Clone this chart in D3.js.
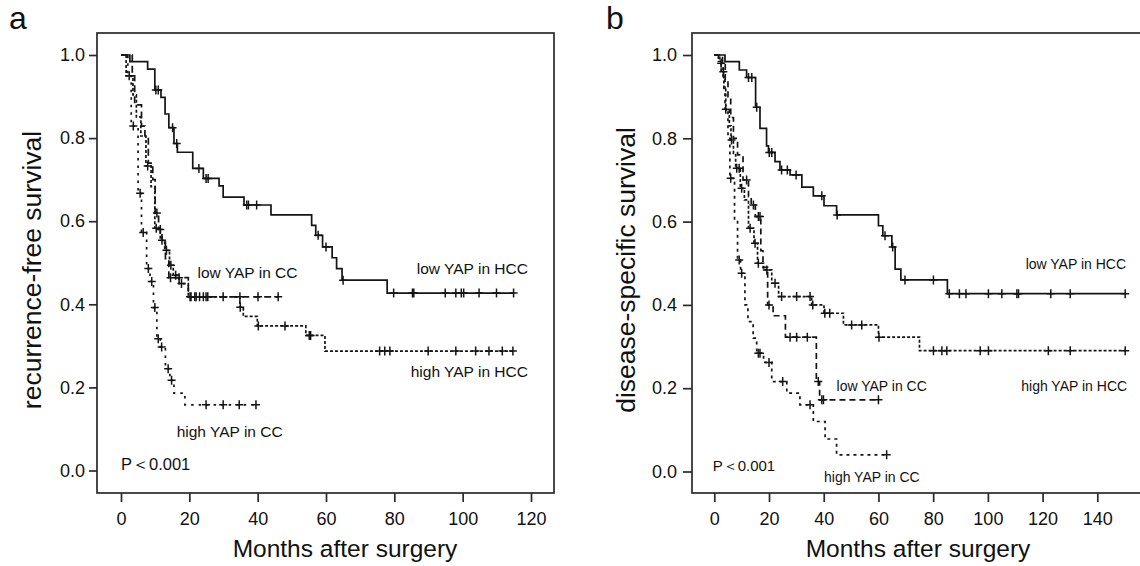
<!DOCTYPE html>
<html>
<head>
<meta charset="utf-8">
<script src="https://cdn.jsdelivr.net/npm/d3@7"></script>
<style>
  body { margin: 0; background: #fff; }
  svg { display: block; }
  text { font-family: "Liberation Sans", Arial, sans-serif; fill: #111; }
</style>
</head>
<body>
<svg id="chart" width="1140" height="566"></svg>
<script>
// ---- data: [month, survival] step points + censor months ----
const seriesNames = ["low YAP in HCC", "high YAP in HCC", "low YAP in CC", "high YAP in CC"];
const yTicks = [0, 0.2, 0.4, 0.6, 0.8, 1.0];
const xTicksA = [0, 20, 40, 60, 80, 100, 120];
const xTicksB = [0, 20, 40, 60, 80, 100, 120, 140];

// panel a: recurrence-free survival
const aLowHccSteps = [[0,1],[2.6,0.984],[7.8,0.966],[9.9,0.916],[11.7,0.898],[12.9,0.858],[14.0,0.825],[15.5,0.787],[16.5,0.766],[21.0,0.727],[24.1,0.703],[28.7,0.685],[29.9,0.658],[36.0,0.639],[43.9,0.615],[55.8,0.590],[57.0,0.566],[59.0,0.538],[61.8,0.512],[63.1,0.486],[64.7,0.458],[77.9,0.427]];
const aLowHccCensor = [10.2,10.9,15.1,16.3,22.8,24.9,25.5,36.8,37.3,39.7,57.7,60.0,65.0,79.8,85.3,85.7,94.9,98.0,99.6,100.3,104.8,109.9,114.9];
const aHighHccSteps = [[0,1],[1.5,0.95],[3.5,0.904],[4.5,0.851],[5.8,0.805],[7.3,0.733],[8.8,0.683],[9.9,0.583],[11.5,0.554],[12.8,0.53],[14.2,0.494],[15.3,0.47],[17.0,0.45],[19.7,0.418],[34.8,0.393],[35.8,0.371],[39.9,0.348],[54.1,0.325],[59.7,0.2875]];
const aHighHccCensor = [2.4,7.8,10.3,12.0,13.3,14.6,16.0,17.7,20.5,22.0,23.0,34.9,40.2,48.0,55.1,55.5,75.7,77.2,78.7,89.9,98.0,103.8,107.7,111.6,114.7];
const aLowCcSteps = [[0,1],[3.3,0.95],[4.0,0.88],[6.0,0.829],[7.0,0.805],[8.0,0.74],[9.3,0.70],[10.0,0.62],[11.0,0.58],[12.0,0.55],[13.0,0.51],[14.0,0.464],[19.7,0.418]];
const aLowCcCensor = [10.5,11.5,14.5,17.0,20.2,21.6,24.1,24.9,25.4,29.9,34.8,40.1,46.0];
const aHighCcSteps = [[0,1],[2.0,0.95],[3.0,0.829],[5.0,0.667],[6.0,0.573],[7.5,0.486],[8.5,0.455],[9.5,0.392],[10.5,0.317],[11.5,0.297],[13.0,0.245],[14.3,0.217],[15.5,0.186],[18.7,0.158]];
const aHighCcCensor = [3.6,5.6,6.5,8.0,9.0,9.9,10.9,11.9,13.8,14.8,24.9,29.9,34.6,39.5];

// panel b: disease-specific survival
const bLowHccSteps = [[0,1],[3.9,0.984],[9.15,0.964],[11.8,0.946],[15.1,0.8745],[16.7,0.824],[19.1,0.782],[19.8,0.766],[22.2,0.744],[24.0,0.724],[27.7,0.712],[32.0,0.683],[36.2,0.662],[40.1,0.638],[44.7,0.616],[60.0,0.590],[61.6,0.566],[64.9,0.539],[66.1,0.486],[68.2,0.46],[85.2,0.427]];
const bLowHccCensor = [12.5,13.7,15.5,20.1,21.0,24.6,26.7,29.9,39.3,44.9,62.4,65.2,69.7,80.1,85.9,89.6,92.0,100.2,105.1,110.6,111.2,123.0,130.1,150.2];
const bHighHccSteps = [[0,1],[1.5,0.985],[2.5,0.96],[3.5,0.92],[4.2,0.868],[5.5,0.83],[6.1,0.796],[7.0,0.764],[7.8,0.728],[9.5,0.68],[11.0,0.652],[12.5,0.584],[14.5,0.548],[15.8,0.50],[18.0,0.484],[21.0,0.452],[23.5,0.42],[35.6,0.40],[40.1,0.38],[47.2,0.352],[60.0,0.3225],[75.0,0.290]];
const bHighHccCensor = [3.3,6.3,8.2,9.1,10.0,13.1,14.9,16.1,19.2,22.2,24.6,30.1,35.0,36.0,40.4,42.2,50.2,53.9,60.2,80.1,83.2,85.0,97.2,100.2,122.1,130.1,150.2];
const bLowCcSteps = [[0,1],[3.0,0.98],[4.0,0.94],[5.0,0.90],[6.0,0.85],[7.0,0.80],[8.5,0.76],[10.5,0.70],[12.5,0.66],[13.5,0.64],[15.0,0.612],[17.0,0.53],[17.8,0.49],[19.5,0.40],[21.5,0.374],[26.0,0.3225],[37.3,0.216],[38.5,0.172]];
const bLowCcCensor = [11.8,14.3,16.1,16.7,20.0,27.7,30.1,34.0,38.0,39.3,39.9,60.0];
const bHighCcSteps = [[0,1],[2.0,0.98],[3.2,0.94],[3.9,0.87],[5.0,0.80],[5.7,0.704],[7.4,0.60],[8.5,0.508],[9.6,0.476],[11.2,0.40],[12.3,0.36],[14.2,0.32],[15.5,0.284],[18.0,0.262],[21.0,0.216],[26.5,0.188],[31.3,0.16],[36.2,0.12],[40.5,0.078],[44.7,0.04]];
const bHighCcCensor = [2.5,4.2,6.0,9.1,10.0,16.1,16.7,20.0,25.0,35.0,63.0];

const svg = d3.select("#chart");
const ink = "#141414";

// survival value of a step curve at month t
function survivalAt(steps, t) {
  let s = steps[0][1];
  for (const [tt, ss] of steps) if (tt <= t) s = ss;
  return s;
}

function drawPanel(p) {
  const g = svg.append("g");
  const x = d3.scaleLinear().domain([p.xTicks[0], p.xTicks[p.xTicks.length - 1]]).range(p.xRange);
  const y = d3.scaleLinear().domain([0, 1]).range(p.yRange);
  const f = p.frame;

  // frame
  g.append("rect")
    .attr("x", f.left).attr("y", f.top)
    .attr("width", f.right - f.left).attr("height", f.bottom - f.top)
    .attr("fill", "none").attr("stroke", "#2a2a2a").attr("stroke-width", 1.7);

  // y axis
  const ya = g.append("g").attr("transform", `translate(${f.left},0)`)
    .call(d3.axisLeft(y).tickValues(yTicks).tickFormat(d3.format(".1f"))
      .tickSizeInner(p.yTickLen).tickSizeOuter(0).tickPadding(p.yTickPad));
  ya.select(".domain").remove();
  ya.selectAll("line").attr("stroke", "#2a2a2a").attr("stroke-width", 1.7);
  ya.selectAll("text").attr("font-size", 18).attr("font-family", null).attr("fill", "#111");

  // x axis
  const xa = g.append("g").attr("transform", `translate(0,${f.bottom})`)
    .call(d3.axisBottom(x).tickValues(p.xTicks).tickSizeInner(9).tickSizeOuter(0).tickPadding(10));
  xa.select(".domain").remove();
  xa.selectAll("line").attr("stroke", "#2a2a2a").attr("stroke-width", 1.7);
  xa.selectAll("text").attr("font-size", 18).attr("font-family", null).attr("fill", "#111");

  // curves
  const line = d3.line().x(d => x(d[0])).y(d => y(d[1])).curve(d3.curveStepAfter);
  p.series.forEach((s) => {
    const tEnd = Math.max(s.steps[s.steps.length - 1][0], d3.max(s.censor));
    const pts = s.steps.concat([[tEnd, s.steps[s.steps.length - 1][1]]]);
    g.append("path")
      .attr("d", line(pts))
      .attr("fill", "none").attr("stroke", ink).attr("stroke-width", 1.7)
      .attr("stroke-dasharray", s.dash);
    g.selectAll(null)
      .data(s.censor)
      .join("path")
      .attr("d", t => {
        const cx = x(t), cy = y(survivalAt(s.steps, t));
        return `M${cx - 4},${cy}h8M${cx},${cy - 4.5}v9`;
      })
      .attr("stroke", ink).attr("stroke-width", 1.5).attr("fill", "none");
  });

  // curve labels
  p.labels.forEach((l) => {
    g.append("text")
      .attr("x", x(l.t)).attr("y", y(l.s))
      .attr("text-anchor", l.anchor)
      .attr("font-size", p.labelSize)
      .text(l.text);
  });

  // p value
  g.append("text")
    .attr("x", x(p.pPos[0])).attr("y", y(p.pPos[1]))
    .attr("font-size", p.labelSize + 1)
    .text("P＜0.001");

  // axis titles
  g.append("text")
    .attr("x", p.xTitlePos[0]).attr("y", p.xTitlePos[1])
    .attr("text-anchor", "middle").attr("font-size", 24.5)
    .text("Months after surgery");
  g.append("text")
    .attr("transform", `translate(${p.yTitlePos[0]},${p.yTitlePos[1]}) rotate(-90)`)
    .attr("text-anchor", "middle").attr("font-size", 26.5)
    .text(p.yTitle);

  // panel letter
  g.append("text")
    .attr("x", p.letterPos[0]).attr("y", p.letterPos[1])
    .attr("font-size", 32)
    .text(p.letter);
}

drawPanel({
  letter: "a", letterPos: [9, 29],
  frame: { left: 97, right: 554, top: 33, bottom: 493 },
  xTicks: xTicksA, xRange: [121, 531], yRange: [470.5, 55],
  yTickLen: 8, yTickPad: 4,
  yTitle: "recurrence-free survival", yTitlePos: [41, 270],
  xTitlePos: [345, 557],
  labelSize: 15.5,
  series: [
    { steps: aLowHccSteps, censor: aLowHccCensor, dash: null },
    { steps: aHighHccSteps, censor: aHighHccCensor, dash: "3,2" },
    { steps: aLowCcSteps, censor: aLowCcCensor, dash: "7,4" },
    { steps: aHighCcSteps, censor: aHighCcCensor, dash: "2.5,5" }
  ],
  labels: [
    { text: seriesNames[0], t: 119.1, s: 0.473, anchor: "end" },
    { text: seriesNames[1], t: 119.1, s: 0.226, anchor: "end" },
    { text: seriesNames[2], t: 22.4, s: 0.463, anchor: "start" },
    { text: seriesNames[3], t: 16.3, s: 0.081, anchor: "start" }
  ],
  pPos: [0, 0.001]
});

drawPanel({
  letter: "b", letterPos: [606, 29],
  frame: { left: 692, right: 1142, top: 33, bottom: 493 },
  xTicks: xTicksB, xRange: [714.3, 1097.3], yRange: [471.5, 55],
  yTickLen: 9, yTickPad: 6,
  yTitle: "disease-specific survival", yTitlePos: [635, 270],
  xTitlePos: [918, 557],
  labelSize: 14,
  series: [
    { steps: bLowHccSteps, censor: bLowHccCensor, dash: null },
    { steps: bHighHccSteps, censor: bHighHccCensor, dash: "3,2" },
    { steps: bLowCcSteps, censor: bLowCcCensor, dash: "6,4" },
    { steps: bHighCcSteps, censor: bHighCcCensor, dash: "3,4" }
  ],
  labels: [
    { text: seriesNames[0], t: 150.5, s: 0.486, anchor: "end" },
    { text: seriesNames[1], t: 150.9, s: 0.193, anchor: "end" },
    { text: seriesNames[2], t: 44.7, s: 0.193, anchor: "start" },
    { text: seriesNames[3], t: 40.1, s: -0.0245, anchor: "start" }
  ],
  pPos: [-0.6, 0.002]
});
</script>
</body>
</html>
